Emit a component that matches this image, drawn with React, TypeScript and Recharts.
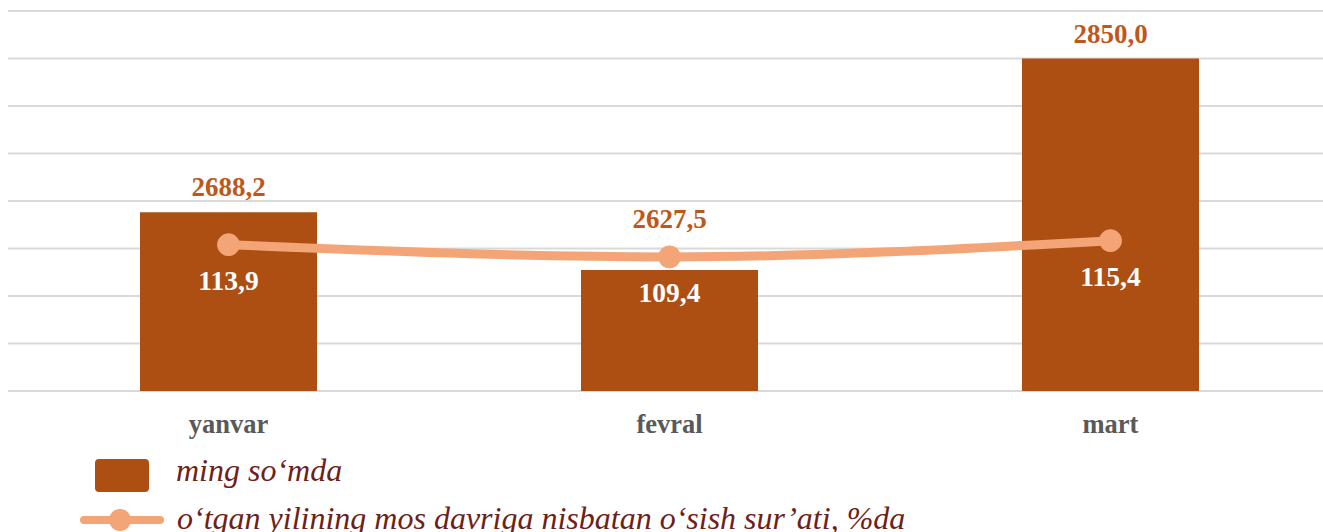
import React from "react";
import {
  ComposedChart,
  Bar,
  Line,
  XAxis,
  YAxis,
  CartesianGrid,
  LabelList,
} from "recharts";

const months = ["yanvar", "fevral", "mart"];
const amounts = [2688.2, 2627.5, 2850.0];
const growthPct = [113.9, 109.4, 115.4];
const amountTicks = [2500, 2550, 2600, 2650, 2700, 2750, 2800, 2850, 2900];
const legendAmount = "ming so‘mda";
const legendGrowth = "o‘tgan yilining mos davriga nisbatan o‘sish sur’ati, %da";

const BAR_COLOR = "#AD4E12";
const LINE_COLOR = "#F3A577";
const VALUE_COLOR = "#C0571A";
const LEGEND_TEXT = "#6E2118";

const fmt = (v: unknown) => Number(v).toFixed(1).replace(".", ",");

// the fevral label sits above the line in the original, so lift it a bit
function AmountLabel(props: any) {
  const { x, y, width, value, index } = props;
  const lift = index === 1 ? 42 : 16;
  return (
    <text
      x={x + width / 2}
      y={y - lift}
      textAnchor="middle"
      fontFamily="Liberation Serif"
      fontWeight={700}
      fontSize={27}
      fill={VALUE_COLOR}
    >
      {fmt(value)}
    </text>
  );
}

const legendText: React.CSSProperties = {
  position: "absolute",
  fontFamily: "Liberation Serif",
  fontStyle: "italic",
  fontSize: 32,
  color: LEGEND_TEXT,
  whiteSpace: "nowrap",
};

export default function App() {
  const data = months.map((m, i) => ({
    month: m,
    amount: amounts[i],
    growth: growthPct[i],
  }));

  return (
    <div
      style={{
        position: "relative",
        width: 1323,
        height: 532,
        overflow: "hidden",
        background: "#fff",
      }}
    >
      <style>{"body{margin:0}"}</style>
      <div style={{ position: "absolute", left: 8, top: 8 }}>
        <ComposedChart
          width={1323}
          height={433}
          data={data}
          margin={{ top: 3, right: 0, left: 0, bottom: 0 }}
        >
          <CartesianGrid
            yAxisId="amt"
            vertical={false}
            horizontalValues={amountTicks}
            stroke="#d9d9d9"
            strokeWidth={2}
          />
          <XAxis
            dataKey="month"
            axisLine={false}
            tickLine={false}
            tickSize={0}
            tickMargin={23}
            height={50}
            tick={{
              fontFamily: "Liberation Serif",
              fontWeight: 700,
              fontSize: 26.5,
              fill: "#595959",
            }}
          />
          <YAxis yAxisId="amt" hide domain={[2500, 2900]} ticks={amountTicks} />
          <YAxis yAxisId="pct" hide orientation="right" domain={[60, 200]} />
          <Bar
            yAxisId="amt"
            dataKey="amount"
            fill={BAR_COLOR}
            barSize={177}
            isAnimationActive={false}
          >
            <LabelList dataKey="amount" content={AmountLabel} />
          </Bar>
          <Line
            yAxisId="pct"
            dataKey="growth"
            type="monotone"
            stroke={LINE_COLOR}
            strokeWidth={9}
            dot={{ r: 11, fill: LINE_COLOR, stroke: LINE_COLOR, strokeWidth: 1 }}
            isAnimationActive={false}
          >
            <LabelList
              dataKey="growth"
              position="bottom"
              offset={26}
              formatter={fmt}
              style={{
                fontFamily: "Liberation Serif",
                fontWeight: 700,
                fontSize: 27.5,
                fill: "#ffffff",
              }}
            />
          </Line>
        </ComposedChart>
      </div>

      <div
        style={{
          position: "absolute",
          left: 95,
          top: 459,
          width: 54,
          height: 33,
          borderRadius: 4,
          background: BAR_COLOR,
        }}
      />
      <div style={{ ...legendText, left: 176, top: 452, lineHeight: "36px" }}>
        {legendAmount}
      </div>

      <div
        style={{
          position: "absolute",
          left: 80,
          top: 516,
          width: 84,
          height: 8,
          borderRadius: 4,
          background: LINE_COLOR,
        }}
      />
      <div
        style={{
          position: "absolute",
          left: 109,
          top: 509,
          width: 22,
          height: 22,
          borderRadius: 11,
          background: LINE_COLOR,
        }}
      />
      <div style={{ ...legendText, left: 177, top: 504, lineHeight: "28px" }}>
        {legendGrowth}
      </div>
    </div>
  );
}
